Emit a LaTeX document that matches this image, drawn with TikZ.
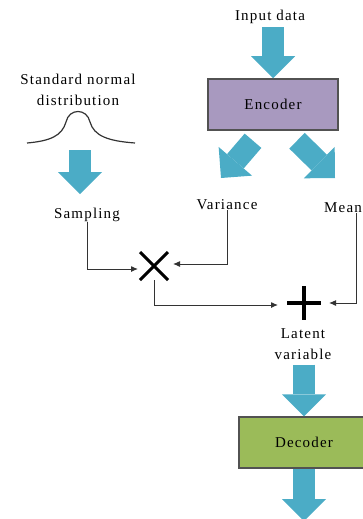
\documentclass[tikz,border=0pt]{standalone}
\usepackage{fontspec}
\setmainfont{Liberation Serif}[LetterSpace=8]
\usetikzlibrary{arrows.meta,shapes.misc}
\definecolor{arrowblue}{HTML}{4BACC6}
\definecolor{encpurple}{HTML}{A899BF}
\definecolor{decgreen}{HTML}{9BBB59}
\definecolor{linegray}{HTML}{333333}
\tikzset{
  lbl/.style={font=\fontsize{15}{21}\selectfont, inner sep=1pt, align=center},
  blockbox/.style={draw=linegray!85, line width=1.5pt, minimum width=130pt,
    minimum height=51pt, font=\fontsize{15}{21}\selectfont},
  bigarrow/.style={draw=arrowblue, line width=22pt,
    -{Triangle[length=22pt,width=44pt,line width=0pt]}},
  link/.style={draw=linegray, line width=1pt, ->},
}

\begin{document}
\begin{tikzpicture}[x=1pt,y=-1pt,>={Latex[length=7pt,width=6pt]}]
\useasboundingbox (0,0) rectangle (362,519);
% labels
\node[lbl,anchor=base] (inp) at (270,21) {Input data};
\node[lbl] (norm) at (78,89.5) {Standard normal\\distribution};
\node[lbl,anchor=base] (samp) at (87,218) {Sampling};
\node[lbl,anchor=base] (var) at (227,209) {Variance};
\node[lbl,anchor=base west] (mean) at (323,212) {Mean};
\node[lbl] (latent) at (303,344) {Latent\\variable};
% blocks
\node[blockbox,fill=encpurple] (enc) at (273,104.5) {Encoder};
\node[blockbox,fill=decgreen] (dec) at (304,442.5) {Decoder};
% operators
\node[draw=black,cross out,line width=3pt,minimum size=25pt,inner sep=0pt] (mul) at (154,266) {};
\node[minimum size=34pt,inner sep=0pt,outer sep=0pt] (add) at (304,303) {};
\draw[line width=4pt] (add.north) -- (add.south) (add.west) -- (add.east);
% bell curve
\draw[linegray,line width=1.2pt] (27,143) .. controls (50,141) and (62,136) .. (66,122)
  .. controls (69,108) and (87,108) .. (90,122) .. controls (94,136) and (108,141) .. (135,143);
\coordinate (bellfoot) at (80,150);
\coordinate (samptip) at (80,194);
\coordinate (vartip) at (221,178);
\coordinate (meantip) at (335,178);
\coordinate (out) at (304,521);
% block arrows
\draw[bigarrow,shorten <=2pt] (enc.north |- inp.south) -- (enc.north);
\draw[bigarrow] (bellfoot) -- (samptip);
\draw[bigarrow] ([shift={(-20,10)}]enc.south) -- (vartip);
\draw[bigarrow] ([shift={(24,10)}]enc.south) -- (meantip);
\draw[bigarrow,shorten <=4pt] (dec.north |- latent.south) -- (dec.north);
\draw[bigarrow] (dec.south) -- (out);
% connectors
\draw[link,shorten >=2pt] (samp.south) |- ([yshift=-3pt]mul.west);
\draw[link,shorten >=5pt] (var.south) |- ([yshift=2pt]mul.east);
\draw[link,shorten >=9pt] (mul.south) |- ([yshift=-2pt]add.west);
\draw[link,shorten >=8pt] ([xshift=13pt]mean.south) |- (add.east);
\end{tikzpicture}
\end{document}
